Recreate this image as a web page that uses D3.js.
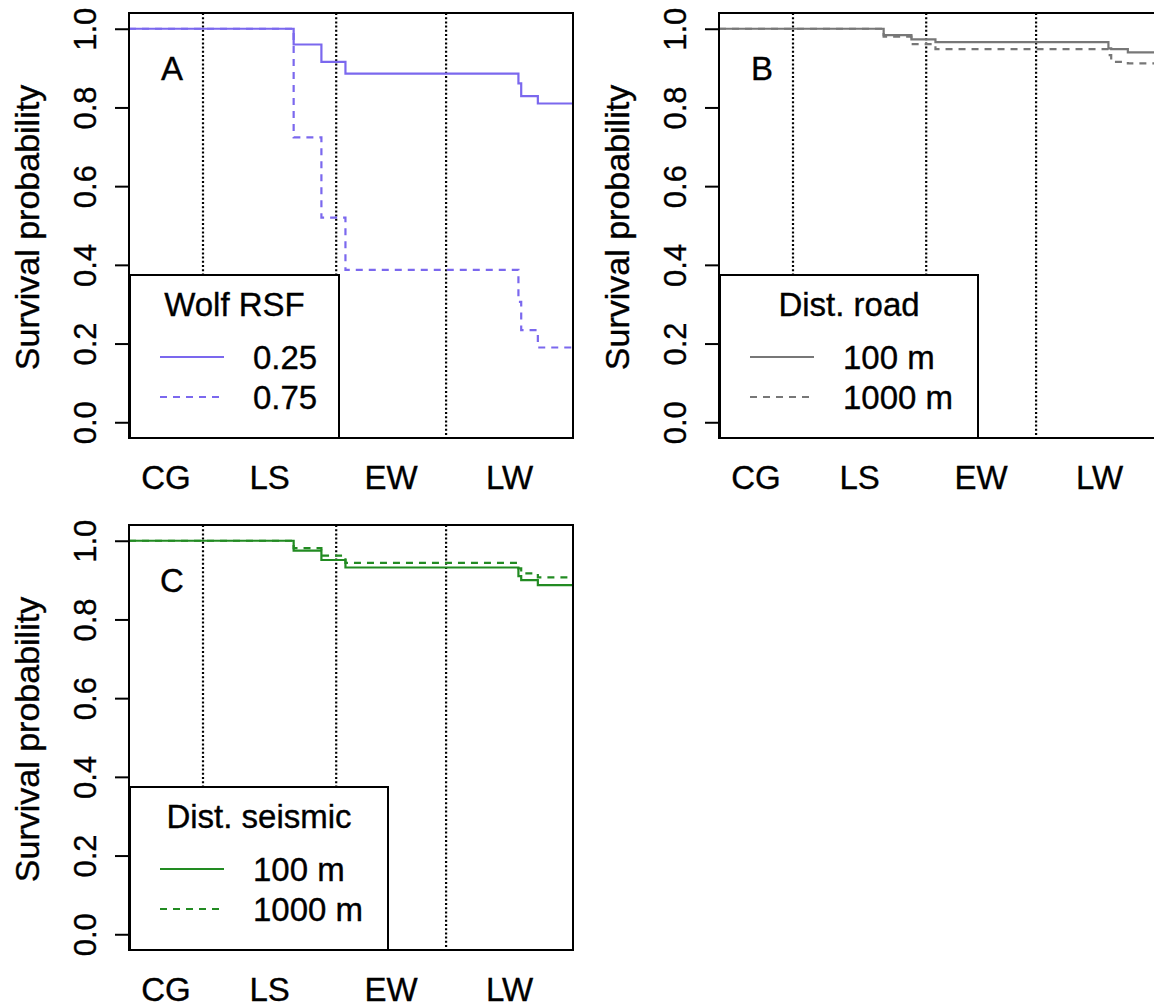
<!DOCTYPE html>
<html><head><meta charset="utf-8">
<script src="https://cdn.jsdelivr.net/npm/d3@7"></script>
<style>
html,body{margin:0;padding:0;background:#fff;}
svg text{font-family:"Liberation Sans",Arial,sans-serif;fill:#000;stroke:#000;stroke-width:0.35px;}
</style>
</head><body>
<svg id="chart" width="1154" height="1008"></svg>
<script>
// ---------- data ----------
const xEnd = 240;                       // study period length (days)
const seasonBreaks = [40, 112, 171.4];  // dotted season boundaries
const seasonLabels = ["CG", "LS", "EW", "LW"];
const yTicks = [0, 0.2, 0.4, 0.6, 0.8, 1.0];
const stepTimes = [0, 89, 104, 117, 210.5, 212, 221];

const wolfRSF025 = [1.0, 0.960, 0.916, 0.886, 0.861, 0.829, 0.810];
const wolfRSF075 = [1.0, 0.724, 0.520, 0.387, 0.306, 0.234, 0.190];
const road100    = [1.0, 0.984, 0.973, 0.966, 0.950, 0.948, 0.940];
const road1000   = [1.0, 0.980, 0.961, 0.948, 0.933, 0.916, 0.912];
const seismic100  = [1.0, 0.975, 0.951, 0.932, 0.910, 0.900, 0.887];
const seismic1000 = [1.0, 0.981, 0.962, 0.944, 0.930, 0.917, 0.907];

const panels = [
  {letter:"A", title:"Wolf RSF", labels:["0.25","0.75"], series:[wolfRSF025, wolfRSF075],
   color:"#7B68EE", left:129, top:13, legendW:209},
  {letter:"B", title:"Dist. road", labels:["100 m","1000 m"], series:[road100, road1000],
   color:"#777777", left:719, top:13, legendW:258},
  {letter:"C", title:"Dist. seismic", labels:["100 m","1000 m"], series:[seismic100, seismic1000],
   color:"#228B22", left:129, top:525, legendW:258}
];

// ---------- drawing ----------
const W = 444, H = 425, FS = 33;
const svg = d3.select("#chart");

panels.forEach(p => {
  const g = svg.append("g").attr("transform", `translate(${p.left},${p.top})`);
  const x = d3.scaleLinear().domain([0, xEnd]).range([0, W]);
  const y = d3.scaleLinear().domain([-0.04, 1.04]).range([H, 0]);

  // season boundaries
  g.selectAll(".season").data(seasonBreaks).enter().append("line")
    .attr("x1", d => x(d)).attr("x2", d => x(d)).attr("y1", 0).attr("y2", H)
    .attr("stroke", "#000").attr("stroke-width", 2.2).attr("stroke-dasharray", "2,2.2");

  // survival curves
  const line = d3.line().x(d => x(d[0])).y(d => y(d[1])).curve(d3.curveStepAfter);
  p.series.forEach((s, i) => {
    const pts = stepTimes.map((t, k) => [t, s[k]]);
    pts.push([xEnd, s[s.length - 1]]);
    g.append("path").datum(pts).attr("d", line)
      .attr("fill", "none").attr("stroke", p.color).attr("stroke-width", 2.2)
      .attr("stroke-dasharray", i === 1 ? "7,6" : null);
  });

  // y axis
  const ax = d3.axisLeft(y).tickValues(yTicks).tickSize(14).tickFormat(d3.format(".1f"));
  const ga = g.append("g").call(ax);
  ga.select(".domain").remove();
  ga.selectAll(".tick line").attr("stroke", "#000").attr("stroke-width", 2);
  ga.selectAll(".tick text").remove();
  ga.selectAll(".tick").append("text")
    .attr("transform", "translate(-33,0) rotate(-90)")
    .attr("text-anchor", "middle").attr("font-size", 31).text(d => d3.format(".1f")(d));

  // y label
  g.append("text").attr("transform", `translate(-90,${H / 2 + 2}) rotate(-90)`)
    .attr("text-anchor", "middle").attr("font-size", 34).text("Survival probability");

  // season labels
  const bounds = [0, ...seasonBreaks, xEnd];
  g.selectAll(".slab").data(seasonLabels).enter().append("text")
    .attr("x", (d, i) => x((bounds[i] + bounds[i + 1]) / 2)).attr("y", H + 51)
    .attr("text-anchor", "middle").attr("font-size", FS).text(d => d);

  // panel letter
  g.append("text").attr("x", 43).attr("y", 67).attr("text-anchor", "middle")
    .attr("font-size", FS).text(p.letter);

  // legend
  const lt = 262;
  const lg = g.append("g").attr("transform", `translate(0,${lt})`);
  lg.append("rect").attr("x", 1).attr("y", 0).attr("width", p.legendW).attr("height", H - lt)
    .attr("fill", "#fff").attr("stroke", "#000").attr("stroke-width", 2);
  lg.append("text").attr("x", 1 + p.legendW / 2).attr("y", 41).attr("text-anchor", "middle")
    .attr("font-size", FS).text(p.title);
  p.labels.forEach((lab, i) => {
    const yy = 82 + i * 40;
    lg.append("line").attr("x1", 31).attr("x2", 95).attr("y1", yy).attr("y2", yy)
      .attr("stroke", p.color).attr("stroke-width", 2)
      .attr("stroke-dasharray", i === 1 ? "7,6" : null);
    lg.append("text").attr("x", 124).attr("y", yy + 12).attr("font-size", FS).text(lab);
  });

  // plot frame
  g.append("rect").attr("x", 0).attr("y", 0).attr("width", W).attr("height", H)
    .attr("fill", "none").attr("stroke", "#000").attr("stroke-width", 2);
});
</script>
</body></html>
